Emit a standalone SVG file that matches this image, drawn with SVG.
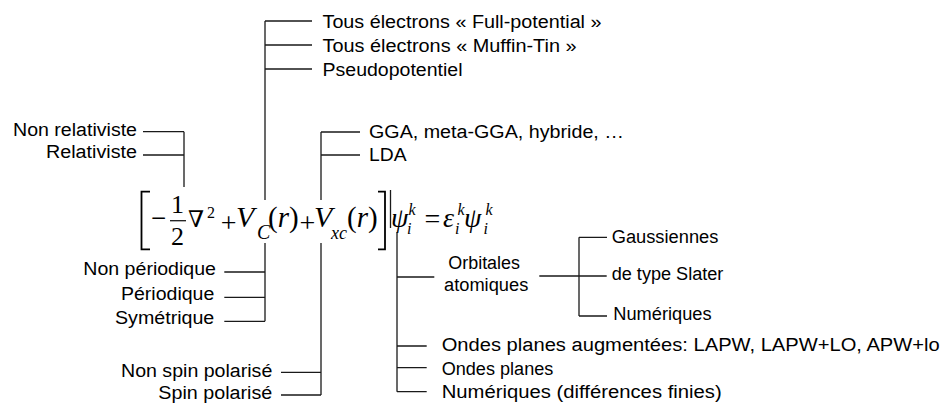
<svg xmlns="http://www.w3.org/2000/svg" width="945" height="403" viewBox="0 0 945 403">
<style>
.t{font-family:"Liberation Sans",Arial,sans-serif;font-size:18px;fill:#000}
.e{text-anchor:end}
.m{font-family:"Liberation Serif","Times New Roman",serif;fill:#000}
.i{font-style:italic}
.ln{stroke:#1a1a1a;stroke-width:1.3;fill:none}
.br{stroke:#000;stroke-width:1.8;fill:none}
</style>
<rect width="945" height="403" fill="#fff"/>
<g id="connectors" class="ln">
<path d="M265,21V200M265,21H312M265,45H312M265,69H312"/>
<path d="M265,243V321.3M224.3,272H265M224.3,297.3H265M224.3,321.3H265"/>
<path d="M184,131.7V187M143,131.7H184M143,155H184"/>
<path d="M321,132V200M321,132H360M321,155H360"/>
<path d="M321,243V395M281,372.3H321M281,395H321"/>
<path d="M397,232V391.7M397,277H434.3M397,346H426.7M397,367.7H426.7M397,391.7H426.7"/>
<path d="M539.3,276H606.7M579,237.3V316M579,237.3H607M579,316H607"/>
</g>
<g id="equation">
<path class="br" d="M150,191.7H141.5V249.3H150"/>
<path class="br" d="M378,191.7H385V249.3H378"/>
<path class="ln" d="M390.5,190V228"/>
<text class="m" x="151" y="227" font-size="27">−</text>
<text class="m" x="177.5" y="213.3" font-size="26" text-anchor="middle">1</text>
<path class="ln" d="M170,220.7H186"/>
<text class="m" x="177.5" y="245" font-size="26" text-anchor="middle">2</text>
<text x="196" y="227" font-size="23" text-anchor="middle" style="font-family:'DejaVu Serif',serif">∇</text>
<text class="m" x="211" y="218.3" font-size="16" text-anchor="middle">2</text>
<text class="m" x="228.7" y="231.5" font-size="28" text-anchor="middle">+</text>
<text class="m i" x="236" y="227" font-size="30">V</text>
<text class="m i" x="257" y="238.5" font-size="20">C</text>
<text class="m" x="268" y="227" font-size="29">(<tspan class="i">r</tspan>)</text>
<text class="m" x="307.5" y="231.5" font-size="28" text-anchor="middle">+</text>
<text class="m i" x="314" y="227" font-size="30">V</text>
<text class="m i" x="331" y="238.5" font-size="18">xc</text>
<text class="m" x="347" y="227" font-size="29">(<tspan class="i">r</tspan>)</text>
<text class="m i" x="391" y="227" font-size="28">ψ</text>
<text class="m i" x="408.5" y="215" font-size="16">k</text>
<text class="m i" x="407" y="234" font-size="16">i</text>
<text class="m" x="432.5" y="228" font-size="28" text-anchor="middle">=</text>
<text class="m i" x="443" y="227" font-size="28">ε</text>
<text class="m i" x="457.5" y="215" font-size="16">k</text>
<text class="m i" x="455" y="234" font-size="16">i</text>
<text class="m i" x="464" y="227" font-size="28">ψ</text>
<text class="m i" x="485.5" y="215" font-size="16">k</text>
<text class="m i" x="483.5" y="234" font-size="16">i</text>
</g>
<g id="n-full"><text class="t" x="322.5" y="27.5" textLength="279" lengthAdjust="spacingAndGlyphs">Tous électrons « Full-potential »</text></g>
<g id="n-muffin"><text class="t" x="322.5" y="51.5" textLength="254" lengthAdjust="spacingAndGlyphs">Tous électrons « Muffin-Tin »</text></g>
<g id="n-pseudo"><text class="t" x="322.5" y="75.5" textLength="140" lengthAdjust="spacingAndGlyphs">Pseudopotentiel</text></g>
<g id="n-nonrel"><text class="t e" x="137" y="136" textLength="124" lengthAdjust="spacingAndGlyphs">Non relativiste</text></g>
<g id="n-rel"><text class="t e" x="137" y="158.3" textLength="91" lengthAdjust="spacingAndGlyphs">Relativiste</text></g>
<g id="n-gga"><text class="t" x="369" y="137.5" textLength="255" lengthAdjust="spacingAndGlyphs">GGA, meta-GGA, hybride, …</text></g>
<g id="n-lda"><text class="t" x="369" y="161" textLength="37.5" lengthAdjust="spacingAndGlyphs">LDA</text></g>
<g id="n-nonper"><text class="t e" x="216" y="275" textLength="132.7" lengthAdjust="spacingAndGlyphs">Non périodique</text></g>
<g id="n-per"><text class="t e" x="214.3" y="299.5" textLength="93.3" lengthAdjust="spacingAndGlyphs">Périodique</text></g>
<g id="n-sym"><text class="t e" x="214.3" y="323.5" textLength="99.3" lengthAdjust="spacingAndGlyphs">Symétrique</text></g>
<g id="n-nonspin"><text class="t e" x="272.3" y="377" textLength="151.3" lengthAdjust="spacingAndGlyphs">Non spin polarisé</text></g>
<g id="n-spin"><text class="t e" x="272.3" y="398.5" textLength="114" lengthAdjust="spacingAndGlyphs">Spin polarisé</text></g>
<g id="n-orb"><text class="t" x="448.3" y="269" textLength="71.7" lengthAdjust="spacingAndGlyphs">Orbitales</text><text class="t" x="444" y="290.7" textLength="84.3" lengthAdjust="spacingAndGlyphs">atomiques</text></g>
<g id="n-gauss"><text class="t" x="611.7" y="242.5" textLength="106.7" lengthAdjust="spacingAndGlyphs">Gaussiennes</text></g>
<g id="n-slater"><text class="t" x="611.7" y="280" textLength="111.7" lengthAdjust="spacingAndGlyphs">de type Slater</text></g>
<g id="n-num1"><text class="t" x="613.3" y="320" textLength="98.3" lengthAdjust="spacingAndGlyphs">Numériques</text></g>
<g id="n-apw"><text class="t" x="441.7" y="350.5" textLength="498" lengthAdjust="spacingAndGlyphs">Ondes planes augmentées: LAPW, LAPW+LO, APW+lo</text></g>
<g id="n-pw"><text class="t" x="441.7" y="375" textLength="111.6" lengthAdjust="spacingAndGlyphs">Ondes planes</text></g>
<g id="n-num2"><text class="t" x="441.7" y="398.3" textLength="280" lengthAdjust="spacingAndGlyphs">Numériques (différences finies)</text></g>
</svg>
